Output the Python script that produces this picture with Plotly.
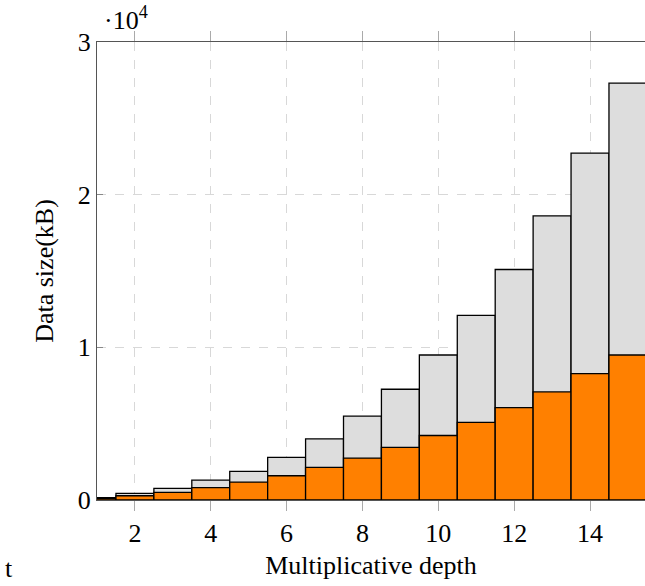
import plotly.graph_objects as go

depth = list(range(1, 16))
total_kb = [160, 440, 765, 1307, 1874, 2789, 4008, 5490, 7255, 9499, 12092, 15098, 18606, 22723, 27300]
part_kb = [100, 280, 500, 805, 1176, 1590, 2135, 2745, 3442, 4226, 5090, 6057, 7081, 8279, 9499]
y_tickvals = [0, 10000, 20000, 30000]
y_ticktext = ["0", "1", "2", "3"]
x_tickvals = [2, 4, 6, 8, 10, 12, 14]

FONT = "Times New Roman, Liberation Serif, DejaVu Serif, serif"
FS = 26

fig = go.Figure()
fig.add_trace(go.Bar(x=depth, y=total_kb, width=1, marker=dict(color="#dddddd", line=dict(color="black", width=1.3)), showlegend=False))
fig.add_trace(go.Bar(x=depth, y=part_kb, width=1, marker=dict(color="#ff8000", line=dict(color="black", width=1.3)), showlegend=False))

fig.update_layout(
    width=645, height=586,
    margin=dict(l=97, r=0, t=42, b=86),
    barmode="overlay",
    plot_bgcolor="white", paper_bgcolor="white",
    font=dict(family=FONT, size=FS, color="black"),
    xaxis=dict(
        range=[1, 15.45], tickvals=x_tickvals,
        showline=True, linecolor="#555555", linewidth=1.2, mirror="ticks",
        ticks="outside", ticklen=10, tickcolor="#aaaaaa", tickwidth=1,
        showgrid=True, gridcolor="#d8d8d8", griddash="dash", gridwidth=1,
        zeroline=False,
        title=dict(text="Multiplicative depth", font=dict(family=FONT, size=FS), standoff=8),
        tickfont=dict(family=FONT, size=FS),
    ),
    yaxis=dict(
        range=[0, 30000], tickvals=y_tickvals, ticktext=y_ticktext,
        showline=True, linecolor="#555555", linewidth=1.2, mirror=False,
        ticks="inside", ticklen=6, tickcolor="#888888",
        showgrid=True, gridcolor="#d8d8d8", griddash="dash", gridwidth=1,
        zeroline=False,
        title=dict(text="Data size(kB)", font=dict(family=FONT, size=FS), standoff=16),
        tickfont=dict(family=FONT, size=FS),
    ),
)
fig.add_annotation(text="·10<sup>4</sup>", xref="paper", yref="paper",
                   x=(102 - 97) / 548, y=1 + (42 - 18) / 458, xanchor="left", yanchor="middle",
                   showarrow=False, font=dict(family=FONT, size=FS))
fig.add_annotation(text="t", xref="paper", yref="paper",
                   x=(3 - 97) / 548, y=-(568 - 500) / 458, xanchor="left", yanchor="middle",
                   showarrow=False, font=dict(family=FONT, size=FS))

fig.write_html("out.html")
